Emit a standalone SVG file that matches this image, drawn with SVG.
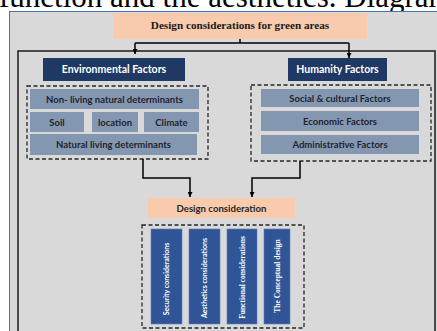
<svg xmlns="http://www.w3.org/2000/svg" width="437" height="331" viewBox="0 0 437 331">
<defs>
<marker id="ah" viewBox="0 0 10 10" refX="10" refY="5" markerWidth="5" markerHeight="5" markerUnits="userSpaceOnUse" orient="auto">
<path d="M0,0 L10,5 L0,10 z" fill="#000"/>
</marker>
<style>
.peach{fill:#f8cbad}
.navy{fill:#1f3864}
.grey{fill:#8497b0}
.blue{fill:#2f5597;stroke:#5b7fc0;stroke-width:0.6}
.dash{fill:none;stroke:#262626;stroke-width:1.3;stroke-dasharray:4 2.5}
.conn{fill:none;stroke:#000;stroke-width:1.5;marker-end:url(#ah)}
.wt{font-family:Lato,"Liberation Sans",sans-serif;font-weight:bold;fill:#fff;text-anchor:middle}
.dt{font-family:Lato,"Liberation Sans",sans-serif;font-weight:bold;fill:#1e2430;font-size:9.5px;text-anchor:middle}
.vt{font-family:Lato,"Liberation Sans",sans-serif;font-weight:bold;fill:#fff;font-size:7px;text-anchor:middle}
.vs{font-family:"Liberation Serif",serif;font-weight:bold;fill:#fff;font-size:7.5px;text-anchor:middle}
</style>
</defs>
<rect x="0" y="0" width="437" height="331" fill="#fff"/>
<text x="-1" y="7" font-family="Liberation Serif,serif" font-size="31" fill="#000">function and the aesthetics. Diagram</text>
<rect x="9.5" y="11.5" width="440" height="330" fill="#d9d9d9" stroke="#4472c4" stroke-width="1"/>
<rect x="18" y="51" width="417" height="300" fill="none" stroke="#262626" stroke-width="1.6"/>

<g id="title">
<rect class="peach" x="113" y="13" width="254" height="26"/>
<text x="240" y="29" font-family="Liberation Serif,serif" font-weight="bold" font-size="11.2" fill="#1a1a1a" text-anchor="middle">Design considerations for green areas</text>
</g>

<g id="env">
<rect class="navy" x="43" y="58" width="142" height="23"/>
<text class="wt" x="114" y="73" font-size="10.5">Environmental Factors</text>
</g>
<g id="env-group">
<rect class="dash" x="27" y="86" width="181" height="73"/>
<g id="nonliving"><rect class="grey" x="30" y="89" width="169" height="20"/><text class="dt" x="114.5" y="102.5">Non- living natural determinants</text></g>
<g id="soil"><rect class="grey" x="30" y="112" width="54" height="20"/><text class="dt" x="57" y="125.5">Soil</text></g>
<g id="location"><rect class="grey" x="92" y="112" width="46" height="20"/><text class="dt" x="115" y="125.5">location</text></g>
<g id="climate"><rect class="grey" x="144" y="112" width="55" height="20"/><text class="dt" x="171.5" y="125.5">Climate</text></g>
<g id="living"><rect class="grey" x="30" y="134" width="167" height="21"/><text class="dt" x="113.5" y="148">Natural living determinants</text></g>
</g>

<g id="hum">
<rect class="navy" x="288" y="58" width="99" height="23"/>
<text class="wt" x="337.5" y="73" font-size="10.5">Humanity Factors</text>
</g>
<g id="hum-group">
<rect class="dash" x="251" y="85" width="180" height="76"/>
<g id="social"><rect class="grey" x="261" y="89" width="158" height="18"/><text class="dt" x="340" y="101.5">Social &amp; cultural Factors</text></g>
<g id="economic"><rect class="grey" x="261" y="111" width="158" height="20"/><text class="dt" x="340" y="124.5">Economic Factors</text></g>
<g id="admin"><rect class="grey" x="261" y="135" width="158" height="19"/><text class="dt" x="340" y="148">Administrative Factors</text></g>
</g>

<g id="design">
<rect class="peach" x="148" y="198" width="147" height="20"/>
<text x="221.5" y="211.5" font-family="Lato,Liberation Sans,sans-serif" font-weight="bold" font-size="9.6" fill="#262626" text-anchor="middle">Design consideration</text>
</g>
<g id="design-group">
<rect class="dash" x="142" y="225" width="162" height="103"/>
<g id="security"><rect class="blue" x="151" y="229" width="31" height="95"/><text class="vt" transform="translate(169,279) rotate(-90)">Security considerations</text></g>
<g id="aesthetics"><rect class="blue" x="189" y="229" width="31" height="95"/><text class="vt" transform="translate(207,278) rotate(-90)">Aesthetics considerations</text></g>
<g id="functional"><rect class="blue" x="227" y="229" width="30" height="95"/><text class="vs" transform="translate(244.5,277.5) rotate(-90)">Functional considerations</text></g>
<g id="conceptual"><rect class="blue" x="264" y="229" width="26" height="95"/><text class="vs" transform="translate(279.5,276) rotate(-90)">The Conceptual design</text></g>
</g>

<g id="connectors">
<path d="M240,39 V43 M135,43 H349" fill="none" stroke="#000" stroke-width="1.5"/>
<path class="conn" d="M135,43 V54"/>
<path class="conn" d="M349,43 V58"/>
<path class="conn" d="M143,159 V178 H190 V197"/>
<path class="conn" d="M300,161 V178 H252 V197"/>
</g>
</svg>
